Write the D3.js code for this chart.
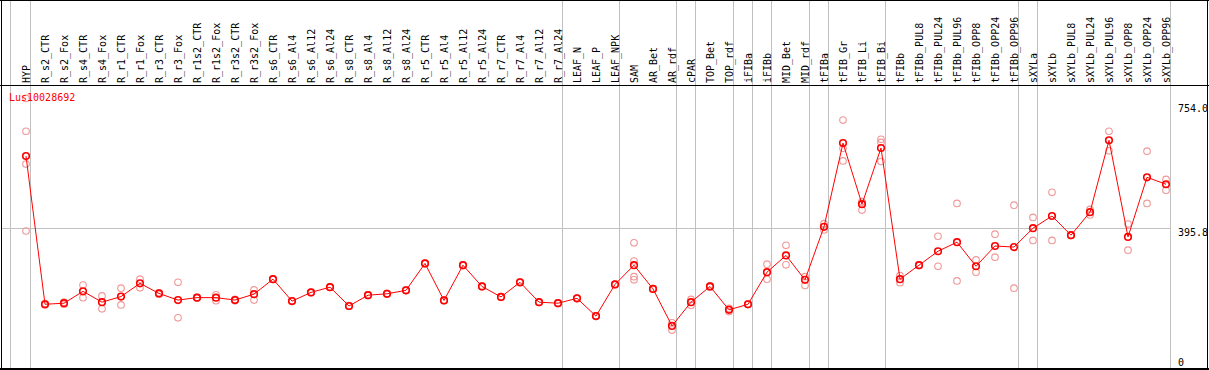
<!DOCTYPE html>
<html>
<head>
<meta charset="utf-8">
<style>
    body { margin: 0; background: #fff; }
    svg { display: block; }
    text { font-family: 'DejaVu Sans Mono', monospace; font-size: 10px; }
    .grid line { stroke: #c0c0c0; stroke-width: 1; shape-rendering: crispEdges; }
    .frame line { stroke: #000; stroke-width: 1.3; shape-rendering: crispEdges; }
</style>
</head>
<body>
<svg width="1209" height="370"></svg>
<script src="https://d3js.org/d3.v7.min.js"></script>
<script>
    let geneId = "Lus10028692";

    let samples = ["HYP", "R_s2_CTR", "R_s2_Fox", "R_s4_CTR", "R_s4_Fox", "R_r1_CTR", "R_r1_Fox",
        "R_r3_CTR", "R_r3_Fox", "R_r1s2_CTR", "R_r1s2_Fox", "R_r3s2_CTR", "R_r3s2_Fox",
        "R_s6_CTR", "R_s6_Al4", "R_s6_Al12", "R_s6_Al24", "R_s8_CTR", "R_s8_Al4", "R_s8_Al12", "R_s8_Al24",
        "R_r5_CTR", "R_r5_Al4", "R_r5_Al12", "R_r5_Al24", "R_r7_CTR", "R_r7_Al4", "R_r7_Al12", "R_r7_Al24",
        "LEAF_N", "LEAF_P", "LEAF_NPK", "SAM", "AR_Bet", "AR_rdf", "cPAR", "TOP_Bet", "TOP_rdf",
        "iFIBa", "iFIBb", "MID_Bet", "MID_rdf", "tFIBa", "tFIB_Gr", "tFIB_Li", "tFIB_Bi",
        "tFIBb", "tFIBb_PUL8", "tFIBb_PUL24", "tFIBb_PUL96", "tFIBb_OPP8", "tFIBb_OPP24", "tFIBb_OPP96",
        "sXYLa", "sXYLb", "sXYLb_PUL8", "sXYLb_PUL24", "sXYLb_PUL96", "sXYLb_OPP8", "sXYLb_OPP24", "sXYLb_OPP96"]

    // mean expression per sample
    let means = [602, 177, 180, 214, 183, 199, 237, 208, 189, 196, 196, 189, 206,
        249, 186, 211, 226, 172, 203, 207, 217,
        294, 188, 289, 228, 198, 240, 183, 180,
        194, 143, 234, 289, 221, 115, 183, 228, 161,
        177, 269, 317, 247, 399, 639, 464, 625,
        249, 289, 329, 355, 286, 344, 341,
        395, 430, 375, 441, 647, 370, 541, 521]

    // individual replicates
    let replicates = [[767, 673, 579, 387], [175, 179], [183, 177], [232, 196], [201, 164], [223, 175], [249, 224],
        [210, 206], [240, 138], [197, 195], [204, 187], [191, 187], [218, 189],
        [250, 248], [187, 185], [212, 210], [227, 225], [173, 171], [204, 202], [208, 206], [218, 216],
        [295, 293], [189, 187], [290, 288], [229, 227], [199, 197], [241, 239], [184, 182], [181, 179],
        [195, 193], [144, 142], [235, 233], [353, 301, 256, 247], [222, 220], [124, 103], [191, 174], [230, 226], [165, 156],
        [178, 176], [292, 249], [346, 290], [256, 231], [408, 390], [705, 624, 588], [471, 447, 470], [650, 641, 586],
        [259, 239], [290, 288], [372, 286], [466, 244], [304, 269], [378, 312], [461, 223],
        [426, 360], [498, 360], [376, 374], [449, 433], [673, 617], [407, 332], [616, 466], [535, 504]]

    // group separators come after these samples
    let groupEnds = ["HYP", "R_r7_Al24", "LEAF_NPK", "AR_rdf", "cPAR", "TOP_rdf", "iFIBa", "iFIBb",
        "MID_rdf", "tFIBa", "tFIB_Bi", "tFIBb_OPP96", "sXYLa", "sXYLb_OPP96"]

    let yTicks = [754.0, 395.8, 0]

    let width = 1209
    let headerBottom = 85.5
    let plotBottom = 369

    let svg = d3.select("svg")

    let x = d3.scalePoint()
        .domain(samples)
        .range([26, 26 + 19 * (samples.length - 1)])

    let y = d3.scaleLinear()
        .domain([0, 754])
        .range([366, 103])

    let grid = svg.append("g").attr("class", "grid")

    // vertical separators, full height
    grid.selectAll("line.v")
        .data([null].concat(groupEnds))
        .join("line")
        .attr("class", "v")
        .attr("x1", d => d === null ? 10.5 : Math.round(x(d) + 4) + 0.5)
        .attr("x2", d => d === null ? 10.5 : Math.round(x(d) + 4) + 0.5)
        .attr("y1", 0)
        .attr("y2", plotBottom)

    // horizontal reference line
    grid.append("line")
        .attr("x1", 1)
        .attr("x2", Math.round(x(samples[samples.length - 1]) + 4) + 0.5)
        .attr("y1", Math.round(y(395.8)) + 0.5)
        .attr("y2", Math.round(y(395.8)) + 0.5)

    // frame
    let frame = svg.append("g").attr("class", "frame")
    frame.append("line").attr("x1", 0).attr("x2", width).attr("y1", 0.5).attr("y2", 0.5)
    frame.append("line").attr("x1", 0).attr("x2", width).attr("y1", headerBottom).attr("y2", headerBottom)
    frame.append("line").attr("x1", 0).attr("x2", width).attr("y1", plotBottom).attr("y2", plotBottom)
    frame.append("line").attr("x1", 1.5).attr("x2", 1.5).attr("y1", 0).attr("y2", plotBottom)
    frame.append("line").attr("x1", 1207.5).attr("x2", 1207.5).attr("y1", 0).attr("y2", plotBottom)

    // sample labels, rotated
    svg.append("g")
        .selectAll("text")
        .data(samples)
        .join("text")
        .attr("transform", d => `translate(${x(d) + 3.5},83) rotate(-90)`)
        .attr("fill", "#000")
        .text(d => d)

    // value labels on the right
    svg.append("g")
        .selectAll("text")
        .data(yTicks)
        .join("text")
        .attr("x", 1178)
        .attr("y", d => Math.min(y(d) + 8.5, 366))
        .attr("fill", "#000")
        .text(d => d === 0 ? "0" : d.toFixed(1))

    let repPoints = []
    samples.forEach((s, i) => replicates[i].forEach(v => repPoints.push({ s: s, v: v })))

    svg.append("g")
        .selectAll("circle")
        .data(repPoints)
        .join("circle")
        .attr("cx", d => x(d.s))
        .attr("cy", d => y(d.v))
        .attr("r", 3.3)
        .attr("fill", "none")
        .attr("stroke", "#f09898")
        .attr("stroke-width", 1.1)

    let line = d3.line()
        .x((d, i) => x(samples[i]))
        .y(d => y(d))

    svg.append("path")
        .datum(means)
        .attr("d", line)
        .attr("fill", "none")
        .attr("stroke", "#ff0000")
        .attr("stroke-width", 1)

    svg.append("g")
        .selectAll("circle")
        .data(means)
        .join("circle")
        .attr("cx", (d, i) => x(samples[i]))
        .attr("cy", d => y(d))
        .attr("r", 3.3)
        .attr("fill", "none")
        .attr("stroke", "#ff0000")
        .attr("stroke-width", 1.6)

    svg.append("text")
        .attr("x", 9)
        .attr("y", 101)
        .attr("fill", "#ff0000")
        .text(geneId)
</script>
</body>
</html>
